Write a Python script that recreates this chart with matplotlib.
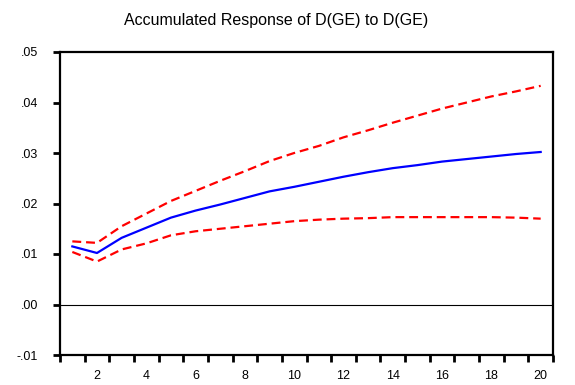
import matplotlib
matplotlib.use("Agg")
import matplotlib.pyplot as plt
import numpy as np

periods = list(range(1, 21))
response = [0.0115, 0.0102, 0.0132, 0.0152, 0.0172, 0.0186, 0.0198, 0.0211, 0.0224, 0.0233,
            0.0243, 0.0253, 0.0262, 0.0270, 0.0276, 0.0283, 0.0288, 0.0293, 0.0298, 0.0302]
upper = [0.0125, 0.0122, 0.0155, 0.0180, 0.0205, 0.0225, 0.0245, 0.0264, 0.0284, 0.0300,
         0.0314, 0.0331, 0.0345, 0.0360, 0.0374, 0.0388, 0.0400, 0.0412, 0.0422, 0.0433]
lower = [0.0104, 0.0085, 0.0109, 0.0121, 0.0137, 0.0145, 0.0150, 0.0155, 0.0160, 0.0165,
         0.0168, 0.0170, 0.0171, 0.0173, 0.0173, 0.0173, 0.0173, 0.0173, 0.0172, 0.0170]
title = "Accumulated Response of D(GE) to D(GE)"
ytick_vals = [-0.01, 0.00, 0.01, 0.02, 0.03, 0.04, 0.05]
ytick_labels = ["-.01", ".00", ".01", ".02", ".03", ".04", ".05"]
xtick_vals = [2, 4, 6, 8, 10, 12, 14, 16, 18, 20]

plt.rcParams['font.family'] = ['Liberation Sans', 'DejaVu Sans']

fig = plt.figure(figsize=(5.75, 3.85), dpi=100)
ax = fig.add_axes([60/575, 1-355/385, (553-60)/575, (355-52)/385])

ax.axhline(0, color='black', lw=0.8, zorder=1)
ax.plot(periods, response, color='#0000ff', lw=1.6, zorder=3)
ax.plot(periods, upper, color='#ff0000', lw=1.6, dashes=(4, 2.2), zorder=2)
ax.plot(periods, lower, color='#ff0000', lw=1.6, dashes=(4, 2.2), zorder=2)

ax.set_xlim(0.5, 20.5)
ax.set_ylim(-0.01, 0.05)

ax.set_yticks(ytick_vals)
ax.set_yticklabels(ytick_labels)
ax.tick_params(axis='y', direction='out', length=5, width=2.0, labelsize=9, pad=11)

ax.set_xticks(np.arange(0.5, 21, 1.0), minor=True)
ax.set_xticks(xtick_vals)
ax.set_xticklabels([str(v) for v in xtick_vals])
ax.tick_params(axis='x', which='major', length=0, labelsize=9, pad=11)
ax.tick_params(axis='x', which='minor', direction='out', length=5, width=2.0)

for s in ax.spines.values():
    s.set_linewidth(1.6)

fig.text(276/575, 1-20/385, title, ha='center', va='center', fontsize=11.5)

fig.savefig("out.png", dpi=100)
